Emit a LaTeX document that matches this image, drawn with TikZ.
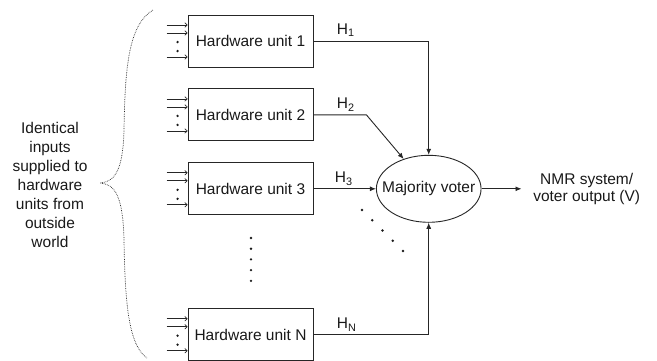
\documentclass[tikz,border=0pt]{standalone}
\usepackage{fontspec}
\setmainfont{Liberation Sans}
\usetikzlibrary{positioning,shapes.geometric,arrows.meta}

\begin{document}
\begin{tikzpicture}[
        x=1pt, y=-1pt,
        font=\fontsize{15.5}{18}\selectfont,
        line width=0.9pt, draw=black!85, text=black!90,
        unit/.style={draw, minimum width=125pt, minimum height=52pt, inner sep=0pt},
        voter/.style={draw, ellipse, minimum height=67pt, inner sep=2pt},
        inarr/.style={-{To[length=3pt,width=5pt]}, line width=0.7pt},
        outarr/.style={-{Latex[length=6pt,width=5pt]}},
        lbl/.style={anchor=base west, inner sep=0pt},
        dot/.style={circle, fill=black!90, inner sep=0pt, minimum size=2.6pt}
    ]
    \useasboundingbox (0,0) rectangle (657,360);

% --- Hardware units ---
        \node[unit] (u1) at (250.5,41) {Hardware unit 1};
        \node[unit, below=21pt of u1] (u2) {Hardware unit 2};
        \node[unit, below=21pt of u2] (u3) {Hardware unit 3};
        \node[unit, below=93pt of u3] (uN) {Hardware unit N};

% --- Inputs of every unit ---
        \foreach \u in {u1,u2,u3,uN} {
            \foreach \dy in {16,8,-16}
                \draw[inarr] ([xshift=-21pt,yshift=\dy pt]\u.west) -- ([yshift=\dy pt]\u.west);
            \node[dot] (\u-d1) at ([xshift=-10pt,yshift=-1pt]\u.west) {};
            \node[dot] (\u-d2) at ([xshift=-10pt,yshift=-10pt]\u.west) {};
        }

% --- Vertical dots between unit 3 and unit N ---
        \foreach \i in {0,...,4}
            \node[dot] (vd\i) at (251,238+10.7*\i) {};

% --- Majority voter ---
        \node[voter, right=62.5pt of u3] (vote) {\makebox[70pt]{Majority voter}};
        \node[right=48pt of vote, align=center, font=\fontsize{15.5}{17}\selectfont] (out) {NMR system/\\voter output (V)};

% --- Unit outputs ---
        \coordinate (b2) at ([xshift=53pt]u2.east);
        \draw[outarr] (u1) -| (vote);
        \draw[outarr] (u2) -- (b2) -- (vote.130);
        \draw[outarr] (u3) -- (vote);
        \draw[outarr] (uN) -| (vote);
        \draw[outarr, shorten >=8pt] (vote) -- (out);

        \node[lbl] (h1) at ([xshift=23pt,yshift=7pt]u1.east) {H\textsubscript{1}};
        \node[lbl] (h2) at ([xshift=23pt,yshift=6pt]u2.east) {H\textsubscript{2}};
        \node[lbl] (h3) at ([xshift=21pt,yshift=6pt]u3.east) {H\textsubscript{3}};
        \node[lbl] (hN) at ([xshift=23pt,yshift=6pt]uN.east) {H\textsubscript{N}};

% --- Diagonal dots below the voter ---
        \foreach \i in {0,...,4}
            \node[dot] (dd\i) at (362+10.25*\i,210+10.25*\i) {};

% --- Outside world ---
        \node[align=center, font=\fontsize{15.5}{19}\selectfont] (inputs) at (50,185) {Identical\\inputs\\supplied to\\hardware\\units from\\outside\\world};
        \draw[densely dotted, line width=0.7pt] (153,10) .. controls (128,25) and (125,70) .. (124,130)
            .. controls (123,170) and (115,182) .. (100,183)
            .. controls (115,184) and (123,196) .. (124,240)
            .. controls (125,300) and (128,345) .. (147,358);

    \end{tikzpicture}
\end{document}
